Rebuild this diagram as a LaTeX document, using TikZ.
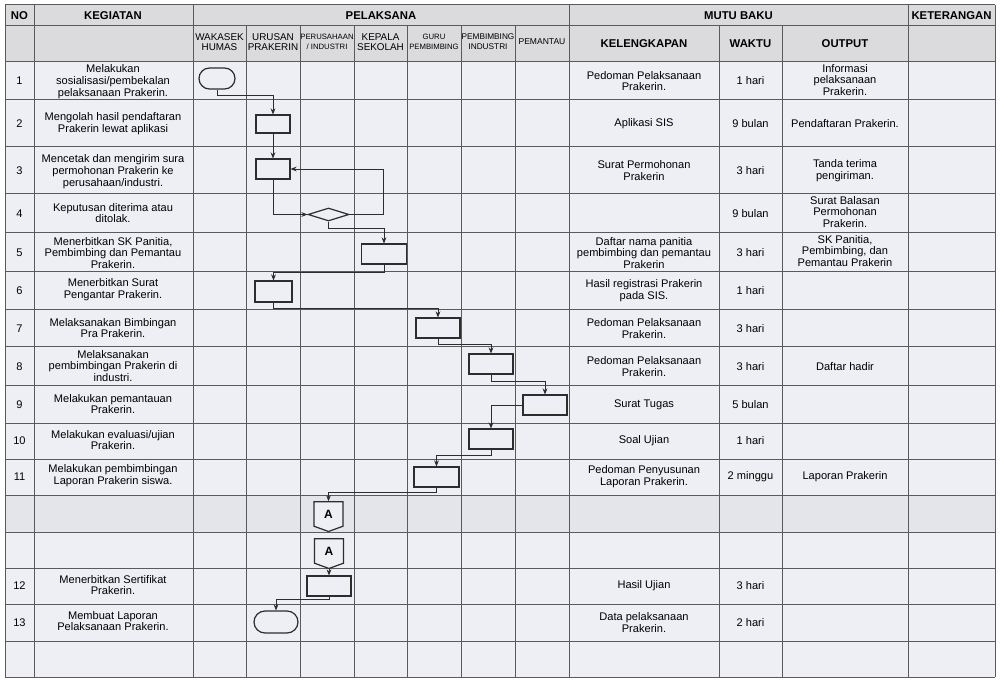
\documentclass[tikz,border=0pt]{standalone}
\usepackage{fontspec}
\setmainfont{Liberation Sans}
\usetikzlibrary{arrows.meta, shapes.geometric, shapes.misc, shapes.symbols}

\definecolor{sheet}{RGB}{237,239,244}
\definecolor{headgray}{RGB}{219,219,222}
\definecolor{bandgray}{RGB}{227,229,234}
\definecolor{gridline}{RGB}{90,90,90}
\definecolor{ink}{RGB}{45,45,45}

\begin{document}
\begin{tikzpicture}[x=0.75pt, y=-0.75pt,
  txt/.style={align=center, inner sep=0pt, font=\fontsize{8.3}{8.9}\selectfont},
  hd/.style={align=center, inner sep=0pt, font=\fontsize{8.5}{9}\selectfont\bfseries},
  subhd/.style={align=center, inner sep=0pt, font=\fontsize{7.4}{8}\selectfont},
  smallhd/.style={align=center, inner sep=0pt, font=\fontsize{5.8}{7.6}\selectfont},
  proc/.style={draw=ink, line width=0.9pt, fill=sheet, inner sep=0pt},
  term/.style={rounded rectangle, draw=ink, line width=0.9pt, fill=sheet, inner sep=0pt},
  offpage/.style={signal, signal to=south, signal pointer angle=140, draw=ink, line width=0.9pt,
    fill=sheet, inner sep=0pt, minimum width=21.75pt, minimum height=19.5pt,
    font=\fontsize{9}{9}\selectfont\bfseries},
  flow/.style={->, >={Stealth[length=4.5pt, width=3.6pt]}, draw=ink, line width=0.6pt}
]
\useasboundingbox (0,0) rectangle (1000,684);
\fill[white] (0,0) rectangle (1000,684);
\fill[sheet] (5,5) rectangle (995,677);
\fill[headgray] (5,5) rectangle (995,62);
\fill[bandgray] (5,495) rectangle (995,532);

% table grid
\foreach \y in {5,26,62,100,147,194,233,272,310,347,386,423,459,495,532,568,604,641,677}
  \draw[gridline, line width=0.75pt] (5,\y) -- (995,\y);
\foreach \x in {5,34,193,569,908,995}
  \draw[gridline, line width=0.75pt] (\x,5) -- (\x,677);
\foreach \x in {246,300,354,407,461,515,719,782}
  \draw[gridline, line width=0.75pt] (\x,26) -- (\x,677);

% header
\node[hd] (hno) at (19.5,15.5) {NO};
\node[hd] (hkeg) at (113,15.5) {KEGIATAN};
\node[hd] (hpel) at (381,15.5) {PELAKSANA};
\node[hd] (hmutu) at (738.5,15.5) {MUTU BAKU};
\node[hd] (hket) at (951.5,15.5) {KETERANGAN};
\node[subhd] (hwak) at (219.5,42) {WAKASEK\\HUMAS};
\node[subhd] (hurus) at (273,42) {URUSAN\\PRAKERIN};
\node[smallhd] (hper) at (327,42) {PERUSAHAAN\\/ INDUSTRI};
\node[subhd] (hkep) at (380.5,42) {KEPALA\\SEKOLAH};
\node[smallhd] (hguru) at (434,42) {GURU\\PEMBIMBING};
\node[smallhd, font=\fontsize{6.2}{7.6}\selectfont] (hpind) at (488,42) {PEMBIMBING\\INDUSTRI};
\node[smallhd, font=\fontsize{6.4}{7.6}\selectfont] (hpem) at (542,42) {PEMANTAU};
\node[hd] (hkel) at (644,44) {KELENGKAPAN};
\node[hd] (hwkt) at (750.5,44) {WAKTU};
\node[hd] (hout) at (845,44) {OUTPUT};

% nomor
\node[txt] (no1) at (19.5,81) {1};
\node[txt] (no2) at (19.5,123.5) {2};
\node[txt] (no3) at (19.5,170.5) {3};
\node[txt] (no4) at (19.5,213.5) {4};
\node[txt] (no5) at (19.5,252.5) {5};
\node[txt] (no6) at (19.5,291) {6};
\node[txt] (no7) at (19.5,328.5) {7};
\node[txt] (no8) at (19.5,366.5) {8};
\node[txt] (no9) at (19.5,404.5) {9};
\node[txt] (no10) at (19.5,441) {10};
\node[txt] (no11) at (19.5,477) {11};
\node[txt] (no12) at (19.5,586) {12};
\node[txt] (no13) at (19.5,622.5) {13};

% kegiatan
\node[txt] (keg1) at (113,82) {Melakukan\\sosialisasi/pembekalan\\pelaksanaan Prakerin.};
\node[txt] (keg2) at (113,124) {Mengolah hasil pendaftaran\\Prakerin lewat aplikasi};
\node[txt] (keg3) at (113,172) {Mencetak dan mengirim sura\\permohonan Prakerin ke\\perusahaan/industri.};
\node[txt] (keg4) at (113,213) {Keputusan diterima atau\\ditolak.};
\node[txt] (keg5) at (113,253) {Menerbitkan SK Panitia,\\Pembimbing dan Pemantau\\Prakerin.};
\node[txt] (keg6) at (113,290) {Menerbitkan Surat\\Pengantar Prakerin.};
\node[txt] (keg7) at (113,328) {Melaksanakan Bimbingan\\Pra Prakerin.};
\node[txt] (keg8) at (113,366) {Melaksanakan\\pembimbingan Prakerin di\\industri.};
\node[txt] (keg9) at (113,404) {Melakukan pemantauan\\Prakerin.};
\node[txt] (keg10) at (113,440) {Melakukan evaluasi/ujian\\Prakerin.};
\node[txt] (keg11) at (113,476) {Melakukan pembimbingan\\Laporan Prakerin siswa.};
\node[txt] (keg12) at (113,585) {Menerbitkan Sertifikat\\Prakerin.};
\node[txt] (keg13) at (113,621) {Membuat Laporan\\Pelaksanaan Prakerin.};

% kelengkapan
\node[txt] (kel1) at (644,81) {Pedoman Pelaksanaan\\Prakerin.};
\node[txt] (kel2) at (644,123.5) {Aplikasi SIS};
\node[txt] (kel3) at (644,170.5) {Surat Permohonan\\Prakerin};
\node[txt] (kel5) at (644,253) {Daftar nama panitia\\pembimbing dan pemantau\\Prakerin};
\node[txt] (kel6) at (644,291) {Hasil registrasi Prakerin\\pada SIS.};
\node[txt] (kel7) at (644,328.5) {Pedoman Pelaksanaan\\Prakerin.};
\node[txt] (kel8) at (644,366.5) {Pedoman Pelaksanaan\\Prakerin.};
\node[txt] (kel9) at (644,404.5) {Surat Tugas};
\node[txt] (kel10) at (644,441) {Soal Ujian};
\node[txt] (kel11) at (644,477) {Pedoman Penyusunan\\Laporan Prakerin.};
\node[txt] (kel12) at (644,586) {Hasil Ujian};
\node[txt] (kel13) at (644,622.5) {Data pelaksanaan\\Prakerin.};

% waktu
\node[txt] (wkt1) at (750.5,81) {1 hari};
\node[txt] (wkt2) at (750.5,123.5) {9 bulan};
\node[txt] (wkt3) at (750.5,170.5) {3 hari};
\node[txt] (wkt4) at (750.5,213.5) {9 bulan};
\node[txt] (wkt5) at (750.5,252.5) {3 hari};
\node[txt] (wkt6) at (750.5,291) {1 hari};
\node[txt] (wkt7) at (750.5,328.5) {3 hari};
\node[txt] (wkt8) at (750.5,366.5) {3 hari};
\node[txt] (wkt9) at (750.5,404.5) {5 bulan};
\node[txt] (wkt10) at (750.5,441) {1 hari};
\node[txt] (wkt11) at (750.5,477) {2 minggu};
\node[txt] (wkt12) at (750.5,586) {3 hari};
\node[txt] (wkt13) at (750.5,622.5) {2 hari};

% output
\node[txt] (out1) at (845,80) {Informasi\\pelaksanaan\\Prakerin.};
\node[txt] (out2) at (845,123.5) {Pendaftaran Prakerin.};
\node[txt] (out3) at (845,171) {Tanda terima\\pengiriman.};
\node[txt] (out4) at (845,212) {Surat Balasan\\Permohonan\\Prakerin.};
\node[txt] (out5) at (845,251) {SK Panitia,\\Pembimbing, dan\\Pemantau Prakerin};
\node[txt] (out8) at (845,366.5) {Daftar hadir};
\node[txt] (out11) at (845,477) {Laporan Prakerin};

% alur
\node[term, minimum width=27pt, minimum height=15.75pt] (start) at (217,78.5) {};
\node[proc, minimum width=25.5pt, minimum height=13.5pt] (p2) at (273,124) {};
\node[proc, minimum width=25.5pt, minimum height=15pt] (p3) at (273,169) {};
\node[diamond, draw=ink, line width=0.9pt, fill=sheet, inner sep=0pt, minimum width=30.75pt, minimum height=9.75pt] (d4) at (328.5,214.5) {};
\node[proc, minimum width=33.75pt, minimum height=15pt] (p5) at (384,254) {};
\node[proc, minimum width=27.75pt, minimum height=15.75pt] (p6) at (273.5,291.5) {};
\node[proc, minimum width=33pt, minimum height=15pt] (p7) at (438,328) {};
\node[proc, minimum width=33pt, minimum height=15pt] (p8) at (491,364) {};
\node[proc, minimum width=33pt, minimum height=15pt] (p9) at (545,405) {};
\node[proc, minimum width=33pt, minimum height=15pt] (p10) at (491,439) {};
\node[proc, minimum width=33.75pt, minimum height=15pt] (p11) at (436.5,477) {};
\node[offpage] (a1) at (328.5,514) {A};
\node[offpage] (a2) at (329,551) {A};
\node[proc, minimum width=33pt, minimum height=15pt] (p12) at (329,586) {};
\node[term, minimum width=33pt, minimum height=16.5pt] (fin) at (276,622) {};

\draw[flow] (start.south) -- ++(0,6) -| (p2.north);
\draw[flow] (p2) -- (p3);
\draw[flow] (p3.south) |- (d4.west);
\draw[flow] (d4.east) -- ++(34,0) |- (p3.east);
\draw[flow] (d4.south) -- ++(0,7) -| (p5.north);
\draw[flow] (p5.south) -- ++(0,8) -| (p6.north);
\draw[flow] (p6.south) -- ++(0,6) -| (p7.north);
\draw[flow] (p7.south) -- ++(0,6) -| (p8.north);
\draw[flow] (p8.south) -- ++(0,7) -| (p9.north);
\draw[flow] (p9.west) -| (p10.north);
\draw[flow] (p10.south) -- ++(0,6) -| (p11.north);
\draw[flow] (p11.south) -- ++(0,5) -| (a1.north);
\draw[flow] (a2.south) -- (p12.north);
\draw[flow] (p12.south) -- ++(0,3) -| (fin.north);
\end{tikzpicture}
\end{document}
